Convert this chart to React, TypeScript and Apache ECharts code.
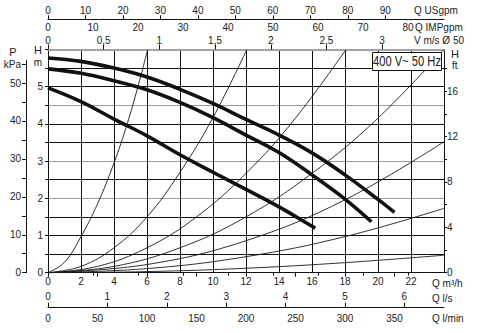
import React, { useEffect, useRef } from "react";
import * as echarts from "echarts";

// ---------- axis ranges & unit factors ----------
const Q_MAX = 24; // m3/h
const H_MAX = 6; // m
const M3H_PER_USGPM = 0.22712;
const M3H_PER_IMPGPM = 0.27277;
const M3H_PER_LS = 3.6;
const M3H_PER_LMIN = 0.06;
const M3H_PER_MS = 6.75; // velocity scale, DN50
const KPA_PER_M = 9.80665;
const FT_PER_M = 3.28084;
const KPA_AXIS_MAX = 56;

// ---------- tick labels ----------
const qLabels = [0, 2, 4, 6, 8, 10, 12, 14, 16, 18, 20, 22];
const usgpmLabels = [0, 10, 20, 30, 40, 50, 60, 70, 80, 90];
const impgpmLabels = [0, 10, 20, 30, 40, 50, 60, 70, 80];
const velocityLabels = [0, 0.5, 1, 1.5, 2, 2.5, 3];
const lsLabels = [0, 1, 2, 3, 4, 5, 6];
const lminLabels = [0, 50, 100, 150, 200, 250, 300, 350];
const hLabels = [0, 1, 2, 3, 4, 5];
const kpaTicks = [0, 5, 10, 15, 20, 25, 30, 35, 40, 45, 50, 55];
const kpaLabels = [0, 10, 20, 30, 40, 50, 55];
const ftTicks = [0, 2, 4, 6, 8, 10, 12, 14, 16, 18];
const ftLabels = [0, 4, 8, 12, 16];
const hGrayLines = [2, 3, 4.5, 6];

// ---------- pump curves (Q m3/h, H m) ----------
const pumpTop = [
  [0, 5.77], [2, 5.68], [4, 5.5], [6, 5.26], [8, 4.93], [10, 4.55],
  [12, 4.12], [14, 3.7], [16, 3.22], [18, 2.63], [20, 1.97], [21.0, 1.62],
];
const pumpMid = [
  [0, 5.48], [2, 5.36], [4, 5.16], [6, 4.92], [8, 4.58], [10, 4.17],
  [12, 3.7], [14, 3.23], [16, 2.63], [18, 1.98], [19.6, 1.37],
];
const pumpLow = [
  [0, 4.97], [2, 4.6], [4, 4.13], [6, 3.68], [8, 3.17], [10, 2.7],
  [12, 2.24], [14, 1.77], [16, 1.25], [16.2, 1.2],
];

// ---------- system curves ----------
const sysA = [[0, 0], [1, 0.28], [2, 0.97], [3, 1.85], [4, 2.95], [4.8, 4.0], [5.45, 5.0], [6.04, 6.0]];
const sysB = [[0, 0], [2, 0.17], [4, 0.67], [6, 1.5], [8, 2.7], [10, 4.17], [12.05, 6]];
const sysC = [[0, 0], [3, 0.17], [6, 0.67], [9, 1.5], [12, 2.67], [14.9, 4.1], [18.06, 6]];
const sysD = [[0, 0], [4, 0.17], [8, 0.67], [12, 1.5], [16, 2.67], [19.87, 4.1], [24, 6]];
const sysE = [[0, 0], [6, 0.22], [12, 0.86], [18, 1.96], [24, 3.52]];
const sysF = [[0, 0], [6, 0.11], [12, 0.43], [18, 0.97], [24, 1.73]];
const sysG = [[0, 0], [6, 0.03], [12, 0.12], [18, 0.27], [24, 0.47]];

const FONT = '"Liberation Sans", Arial, Helvetica, sans-serif';
const TXT = "#222";
const LINE = "#111";

const comma = (v: number) => String(v).replace(".", ",");

export default function App() {
  const ref = useRef<HTMLDivElement>(null);

  useEffect(() => {
    if (!ref.current) return;
    const chart = echarts.init(ref.current, undefined, { renderer: "svg" });

    const lbl = { fontSize: 10, color: TXT, fontFamily: FONT };
    const hSteps: number[] = [];
    for (let i = 0; i <= 12; i++) hSteps.push(i * 0.5);
    const splitColors = hSteps.map((h) =>
      h === H_MAX ? "rgba(0,0,0,0)" : hGrayLines.includes(h) ? "#9a9a9a" : LINE
    );

    const thin = (data: number[][]) => ({
      type: "line",
      xAxisIndex: 0,
      yAxisIndex: 0,
      data,
      smooth: 0.4,
      symbol: "none",
      silent: true,
      z: 3,
      lineStyle: { color: "#1a1a1a", width: 0.9 },
    });
    const thick = (data: number[][]) => ({
      type: "line",
      xAxisIndex: 0,
      yAxisIndex: 0,
      data,
      smooth: 0.4,
      symbol: "none",
      silent: true,
      z: 4,
      lineStyle: { color: "#111", width: 3.6 },
    });

    const option: any = {
      animation: false,
      textStyle: { fontFamily: FONT },
      grid: [
        { left: 48, right: 33, top: 49.5, bottom: 60.3 },
        { left: 26, width: 1, top: 272.7 - KPA_AXIS_MAX * (223.2 / H_MAX / KPA_PER_M), bottom: 60.3 },
      ],
      xAxis: [
        {
          type: "value", gridIndex: 0, position: "bottom", min: 0, max: Q_MAX, interval: 2,
          axisLine: { show: true, onZero: false, lineStyle: { color: LINE, width: 1 } },
          axisTick: { show: false },
          axisLabel: { ...lbl, margin: 4, customValues: qLabels },
          splitLine: { show: true, lineStyle: { color: LINE, width: 1 } },
        },
        {
          type: "value", gridIndex: 0, position: "top", offset: 30.2, min: 0, max: Q_MAX / M3H_PER_USGPM,
          axisLine: { show: true, onZero: false, lineStyle: { color: LINE, width: 1 } },
          axisTick: { show: true, length: 4, customValues: usgpmLabels, lineStyle: { color: LINE } },
          axisLabel: { ...lbl, margin: 4, customValues: usgpmLabels },
          splitLine: { show: false },
        },
        {
          type: "value", gridIndex: 0, position: "top", offset: 30.2, min: 0, max: Q_MAX / M3H_PER_IMPGPM,
          axisLine: { show: false },
          axisTick: { show: true, inside: true, length: 3, customValues: impgpmLabels, lineStyle: { color: LINE } },
          axisLabel: { ...lbl, inside: true, margin: 3, customValues: impgpmLabels },
          splitLine: { show: false },
        },
        {
          type: "value", gridIndex: 0, position: "top", offset: 0, min: 0, max: Q_MAX / M3H_PER_MS,
          axisLine: { show: true, onZero: false, lineStyle: { color: "#a3a3a3", width: 2 } },
          axisTick: { show: true, length: 5, customValues: velocityLabels, lineStyle: { color: LINE } },
          axisLabel: { ...lbl, margin: 4, customValues: velocityLabels, formatter: (v: number) => comma(v) },
          splitLine: { show: false },
        },
        {
          type: "value", gridIndex: 0, position: "bottom", offset: 35, min: 0, max: Q_MAX / M3H_PER_LS,
          axisLine: { show: true, onZero: false, lineStyle: { color: LINE, width: 1 } },
          axisTick: { show: true, inside: true, length: 5, customValues: lsLabels, lineStyle: { color: LINE } },
          axisLabel: { ...lbl, inside: true, margin: 6, customValues: lsLabels },
          splitLine: { show: false },
        },
        {
          type: "value", gridIndex: 0, position: "bottom", offset: 35, min: 0, max: Q_MAX / M3H_PER_LMIN,
          axisLine: { show: false },
          axisTick: { show: true, length: 4, customValues: lminLabels, lineStyle: { color: LINE } },
          axisLabel: { ...lbl, margin: 6, customValues: lminLabels },
          splitLine: { show: false },
        },
        { type: "value", gridIndex: 1, show: false, min: 0, max: 1 },
      ],
      yAxis: [
        {
          type: "value", gridIndex: 0, position: "left", min: 0, max: H_MAX, interval: 0.5,
          axisLine: { show: true, onZero: false, lineStyle: { color: LINE, width: 1 } },
          axisTick: { show: true, length: 3, lineStyle: { color: LINE } },
          axisLabel: { ...lbl, margin: 5, customValues: hLabels },
          splitLine: { show: true, lineStyle: { color: splitColors, width: 1 } },
        },
        {
          type: "value", gridIndex: 0, position: "right", min: 0, max: H_MAX * FT_PER_M,
          axisLine: { show: true, onZero: false, lineStyle: { color: LINE, width: 1 } },
          axisTick: { show: true, length: 3, customValues: ftTicks, lineStyle: { color: LINE } },
          axisLabel: { ...lbl, margin: 3, customValues: ftLabels },
          splitLine: { show: false },
        },
        {
          type: "value", gridIndex: 1, position: "left", min: 0, max: KPA_AXIS_MAX,
          axisLine: { show: true, onZero: false, lineStyle: { color: LINE, width: 1 } },
          axisTick: { show: true, length: 4, customValues: kpaTicks, lineStyle: { color: LINE } },
          axisLabel: {
            ...lbl, margin: 5, customValues: kpaLabels,
            formatter: (v: number) => (v === 55 ? "kPa" : String(v)),
          },
          splitLine: { show: false },
        },
      ],
      series: [
        thin(sysA), thin(sysB), thin(sysC), thin(sysD), thin(sysE), thin(sysF), thin(sysG),
        thick(pumpTop), thick(pumpMid), thick(pumpLow),
      ],
      graphic: [
        { type: "text", z: 100, style: { text: "Q USgpm", x: 414, y: 10, fill: TXT, font: `10px ${FONT}`, align: "left", verticalAlign: "middle" } },
        { type: "text", z: 100, style: { text: "Q IMPgpm", x: 415, y: 27.5, fill: TXT, font: `10px ${FONT}`, align: "left", verticalAlign: "middle" } },
        { type: "text", z: 100, style: { text: "V m/s Ø 50", x: 414, y: 40.5, fill: TXT, font: `10px ${FONT}`, align: "left", verticalAlign: "middle" } },
        { type: "text", z: 100, style: { text: "Q m³/h", x: 432, y: 283, fill: TXT, font: `10px ${FONT}`, align: "left", verticalAlign: "middle" } },
        { type: "text", z: 100, style: { text: "Q l/s", x: 432, y: 298, fill: TXT, font: `10px ${FONT}`, align: "left", verticalAlign: "middle" } },
        { type: "text", z: 100, style: { text: "Q l/min", x: 432, y: 318, fill: TXT, font: `10px ${FONT}`, align: "left", verticalAlign: "middle" } },
        { type: "text", z: 100, style: { text: "P", x: 13, y: 51.5, fill: TXT, font: `11px ${FONT}`, align: "center", verticalAlign: "middle" } },
        { type: "text", z: 100, style: { text: "H", x: 38, y: 50, fill: TXT, font: `11px ${FONT}`, align: "center", verticalAlign: "middle" } },
        { type: "text", z: 100, style: { text: "m", x: 38, y: 62, fill: TXT, font: `10px ${FONT}`, align: "center", verticalAlign: "middle" } },
        { type: "text", z: 100, style: { text: "H", x: 451, y: 53.5, fill: TXT, font: `11px ${FONT}`, align: "left", verticalAlign: "middle" } },
        { type: "text", z: 100, style: { text: "ft", x: 452, y: 65, fill: TXT, font: `10px ${FONT}`, align: "left", verticalAlign: "middle" } },
        {
          type: "rect", z: 100,
          shape: { x: 372.5, y: 52.5, width: 69, height: 18 },
          style: { fill: "#fff", stroke: "#111", lineWidth: 1 },
        },
        {
          type: "text", z: 101, x: 407, y: 62, scaleX: 0.8, scaleY: 1,
          style: {
            text: "400 V~ 50 Hz", x: 0, y: 0, fill: "#222",
            font: `14px ${FONT}`,
            align: "center", verticalAlign: "middle",
          },
        },
      ],
    };

    chart.setOption(option);
    return () => chart.dispose();
  }, []);

  return (
    <div
      ref={ref}
      style={{ position: "absolute", left: 0, top: 0, width: 477, height: 333, background: "#fff" }}
    />
  );
}
